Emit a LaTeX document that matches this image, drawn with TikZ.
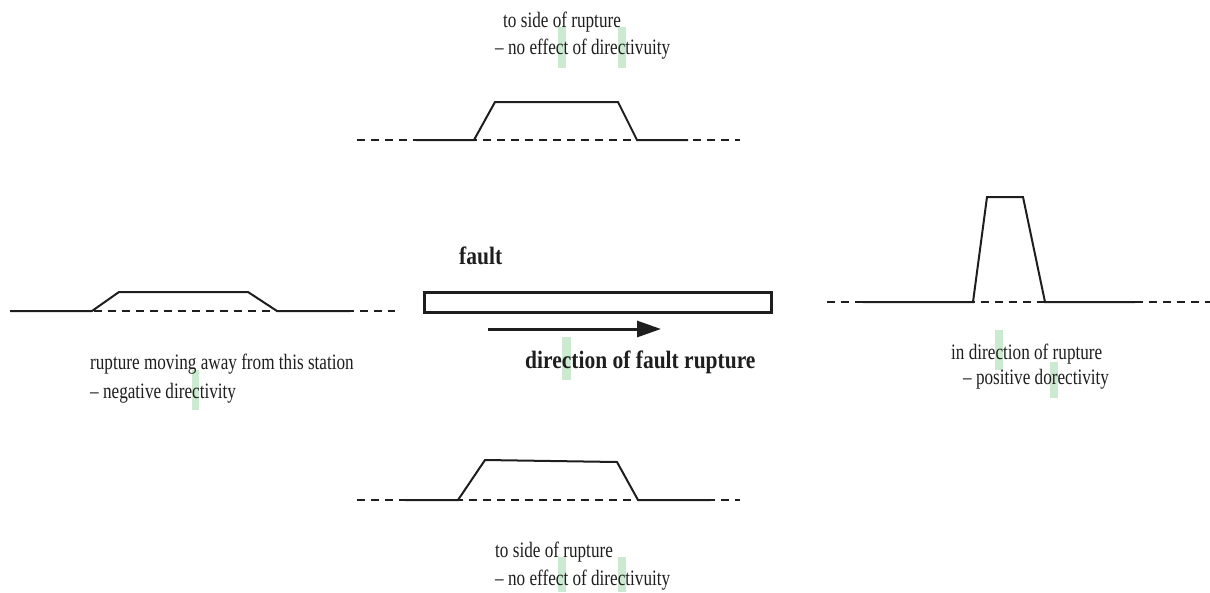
\documentclass[tikz,border=0pt]{standalone}
\usepackage{fontspec}
\setmainfont{Liberation Serif}[FakeStretch=0.78]
\newfontfamily\labbf{Liberation Serif}[FakeStretch=0.86]
\usetikzlibrary{arrows.meta}
\definecolor{ink}{RGB}{30,30,30}
\definecolor{mark}{RGB}{204,234,208}
\tikzset{
  note/.style={anchor=base west, inner sep=0pt, text=ink, font=\fontsize{22}{26}\selectfont},
  boldnote/.style={anchor=base west, inner sep=0pt, text=ink, font=\labbf\bfseries\fontsize{25}{29}\selectfont},
  zeroline/.style={draw=ink, line width=1.4pt, dash pattern=on 8pt off 6pt},
  trace/.style={draw=ink, line width=2pt, line join=miter},
  hilite/.style={fill=mark, draw=none},
}
\begin{document}
\begin{tikzpicture}[x=1pt,y=-1pt]
\useasboundingbox (0,0) rectangle (1210,592);

% highlight marks behind the labels
\fill[hilite] (558,27) rectangle (566,68);
\fill[hilite] (618,27) rectangle (626,68);
\fill[hilite] (192,370) rectangle (199,410);
\fill[hilite] (562,337) rectangle (571,380);
\fill[hilite] (995,330) rectangle (1003,370);
\fill[hilite] (1050,362) rectangle (1058,398);
\fill[hilite] (558,557) rectangle (566,592);
\fill[hilite] (618,557) rectangle (626,592);

% station above the fault
\coordinate (tA) at (357,140);
\coordinate (tB) at (740,140);
\draw[zeroline] (tA) -- (tB);
\draw[trace] (416,140) -- (474,140) -- (495,102) -- (618,102) -- (637,140) -- (688,140);
\node[note] (top1) at (503,27) {to side of rupture};
\node[note] (top2) at (495,54) {– no effect of directivuity};

% station behind the rupture
\coordinate (lA) at (10,311);
\coordinate (lB) at (395,311);
\draw[zeroline] (lA) -- (lB);
\draw[trace] (10,311) -- (92,311) -- (119,292) -- (248,292) -- (277,311) -- (350,311);
\node[note] (left1) at (90,369) {rupture moving away from this station};
\node[note] (left2) at (90,398) {– negative directivity};

% the fault and rupture direction
\node[boldnote] (fault) at (459,264) {fault};
\node[draw=ink, line width=2.6pt, minimum width=347pt, minimum height=20pt, inner sep=0pt, anchor=north west] (faultbox) at (423,291) {};
\coordinate (arrS) at (488,329);
\coordinate (arrE) at (661,329);
\draw[ink, line width=3pt, -{Triangle[length=24pt,width=16pt]}] (arrS) -- (arrE);
\node[boldnote] (dir) at (525,368) {direction of fault rupture};

% station ahead of the rupture
\coordinate (rA) at (827,302);
\coordinate (rB) at (1210,302);
\draw[zeroline] (rA) -- (rB);
\draw[trace] (863,302) -- (973,302) -- (987,197) -- (1023,197) -- (1045,302) -- (1135,302);
\node[note] (right1) at (951,359) {in direction of rupture};
\node[note] (right2) at (963,384) {– positive dorectivity};

% station below the fault
\coordinate (bA) at (357,500);
\coordinate (bB) at (740,500);
\draw[zeroline] (bA) -- (bB);
\draw[trace] (405,500) -- (458,500) -- (485,460) -- (617,462) -- (638,500) -- (710,500);
\node[note] (bot1) at (495,557) {to side of rupture};
\node[note] (bot2) at (495,585) {– no effect of directivuity};
\end{tikzpicture}
\end{document}
